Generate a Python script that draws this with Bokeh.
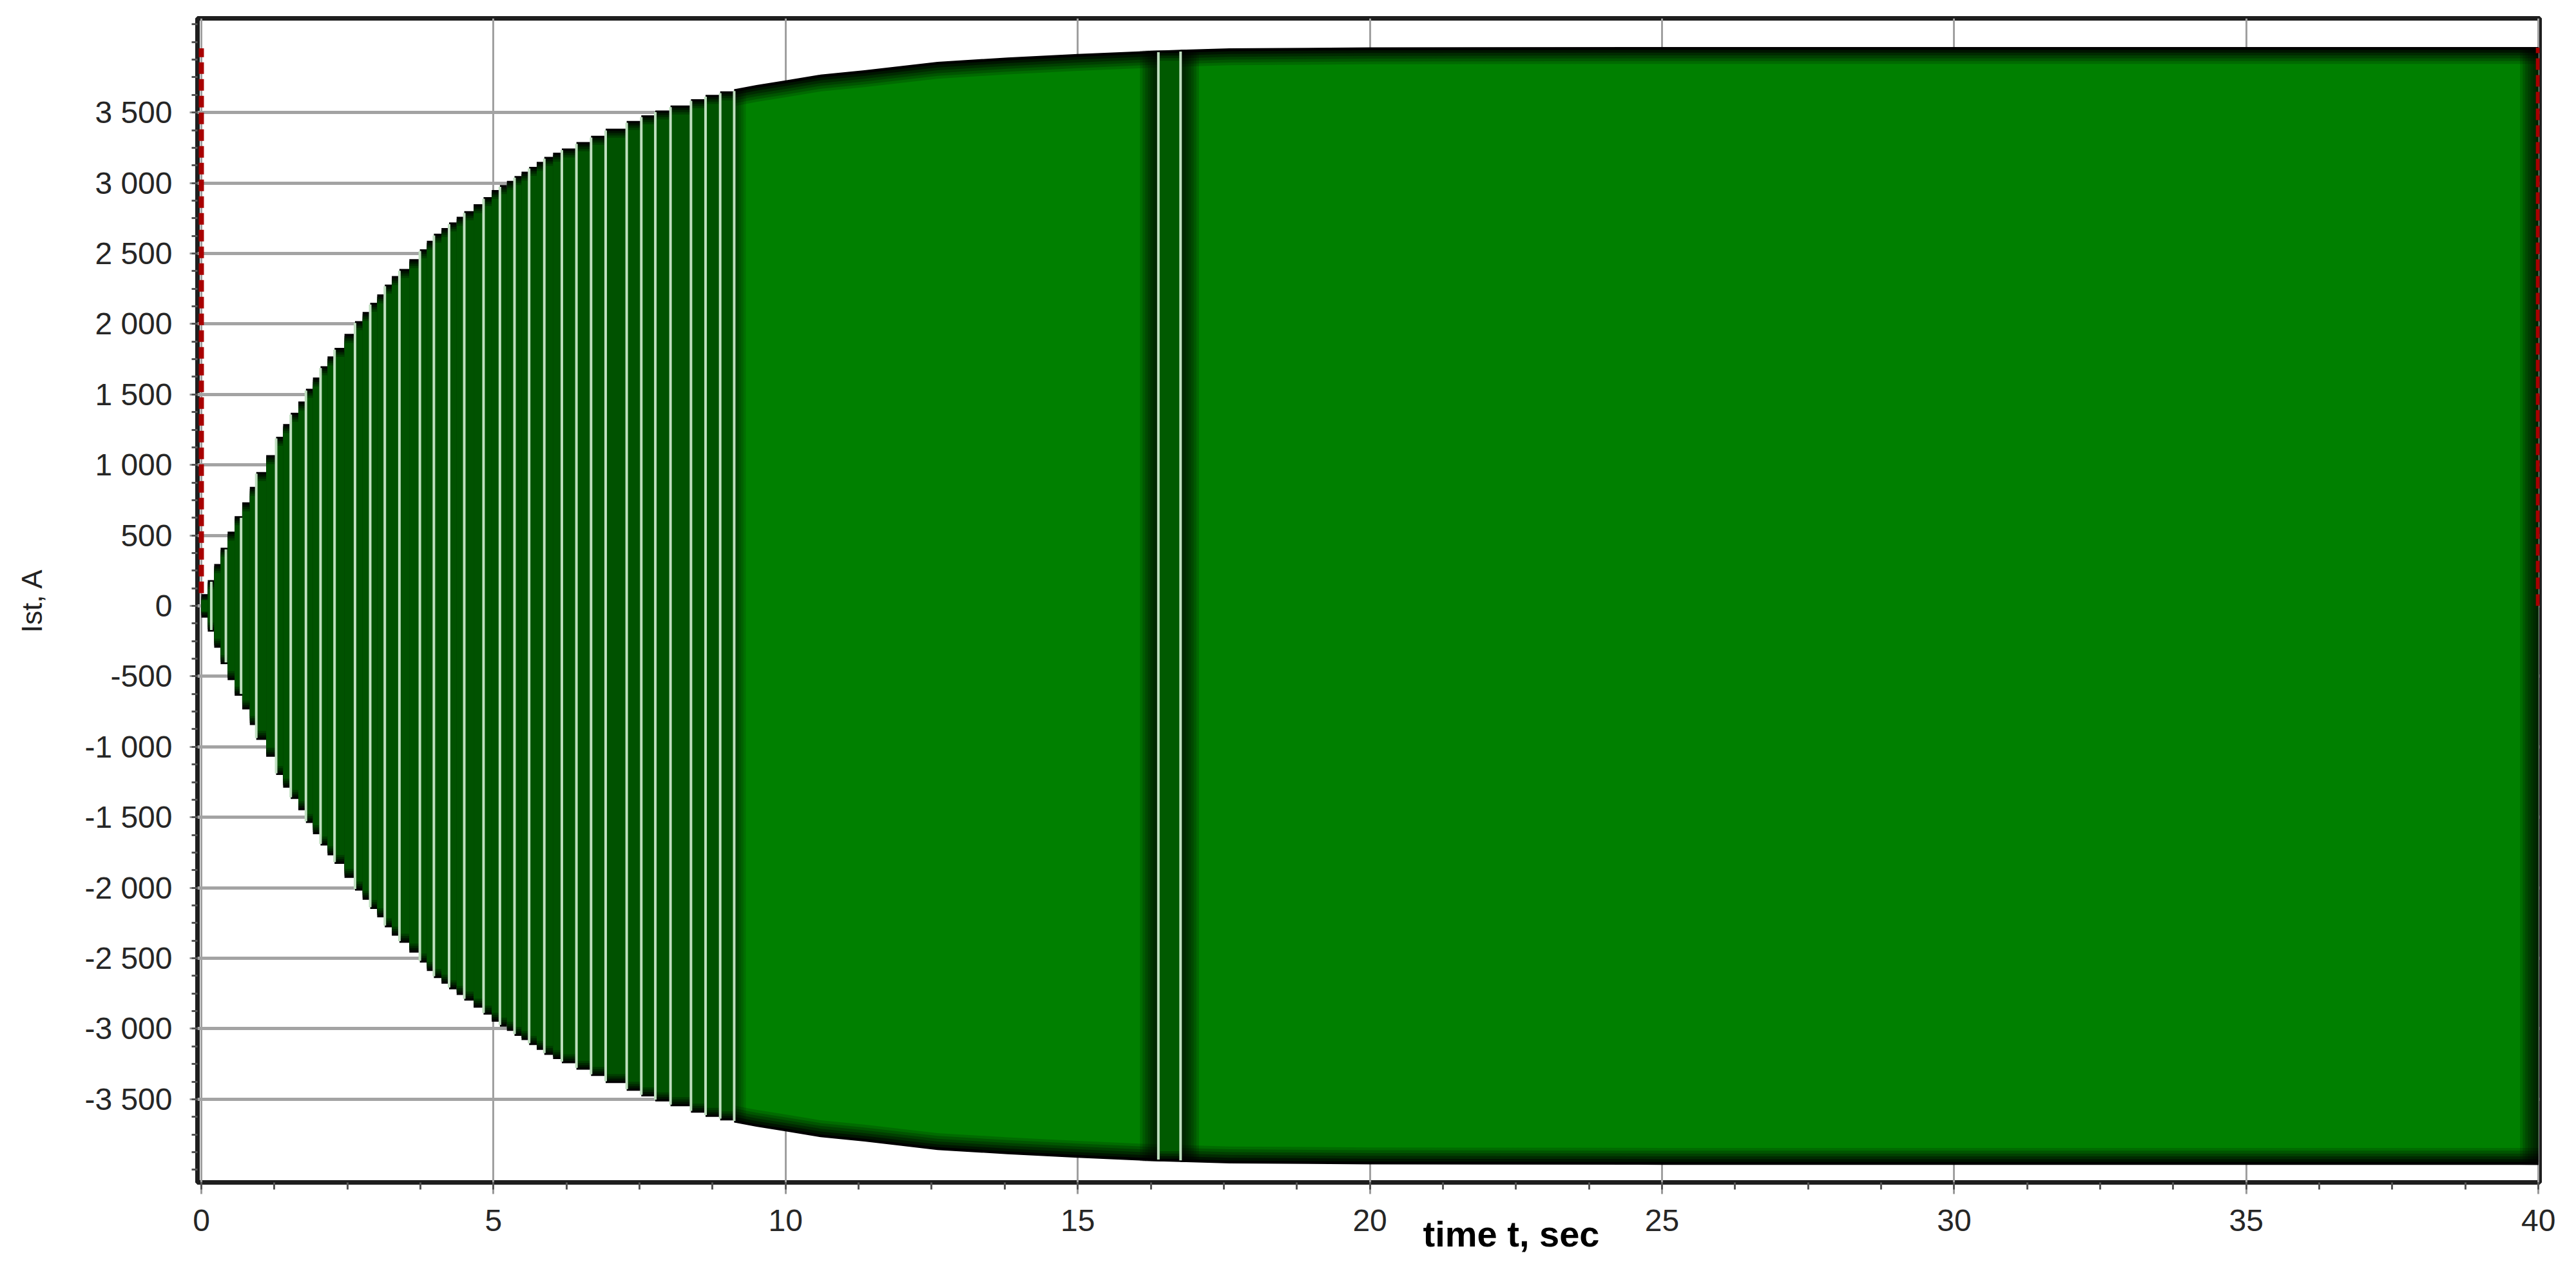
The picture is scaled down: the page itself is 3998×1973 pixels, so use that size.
import numpy as np
from bokeh.plotting import figure
from bokeh.models import FixedTicker, Range1d, LinearAxis
from bokeh.embed import file_html
from bokeh.resources import INLINE

# ---------------- data ----------------
# early part (t < 9.12 s): stepped columns (left edge time, half-height A)
step_t = [0.00, 0.11, 0.22, 0.33, 0.45, 0.57, 0.70, 0.83, 0.94, 1.11, 1.28, 1.40,
          1.53, 1.66, 1.79, 1.91, 2.04, 2.16, 2.28, 2.45, 2.63, 2.76, 2.89, 3.01,
          3.14, 3.26, 3.39, 3.56, 3.74, 3.86, 3.98, 4.11, 4.24, 4.37, 4.50, 4.66,
          4.83, 4.97, 5.11, 5.23, 5.36, 5.48, 5.61, 5.74, 5.87, 6.02, 6.17, 6.42,
          6.67, 6.92, 7.28, 7.53, 7.77, 8.03, 8.38, 8.63, 8.88]
step_a = [83, 183, 297, 413, 527, 637, 735, 845, 950, 1070, 1200, 1290,
          1370, 1450, 1540, 1620, 1700, 1770, 1830, 1930, 2020, 2085, 2150, 2210,
          2280, 2340, 2390, 2460, 2530, 2590, 2640, 2680, 2720, 2760, 2800, 2850,
          2900, 2950, 2985, 3015, 3050, 3080, 3115, 3150, 3185, 3215, 3245, 3290,
          3335, 3385, 3440, 3480, 3515, 3550, 3595, 3625, 3650]
bright_start = 9.12

# later part: envelope of the dense oscillation (time, amplitude A)
env_t = [9.12, 9.5, 10.0, 10.6, 11.35, 12.6, 13.8, 15.0, 16.38, 16.76, 17.6,
         20.0, 25.0, 30.0, 35.0, 40.0]
env_a = [3665, 3695, 3728, 3769, 3800, 3860, 3890, 3915, 3940, 3945, 3955,
         3962, 3965, 3965, 3965, 3965]
dark_col = [16.38, 16.76]

# light gaps between oscillation columns
stripe_t = [0.17, 0.42, 0.68, 0.94, 1.28, 1.53, 1.79, 2.04, 2.28, 2.63, 2.89,
            3.14, 3.39, 3.74, 3.98, 4.24, 4.50, 4.83, 5.11, 5.36, 5.61, 5.87,
            6.17, 6.42, 6.67, 6.92, 7.28, 7.53, 7.77, 8.03, 8.38, 8.63, 8.88,
            9.12, 16.38, 16.76]

# red dashed trace
red_t = [0.0, 40.0]
red_lo = [90, 0]
red_hi = [3955, 3960]

x_ticks = [0, 5, 10, 15, 20, 25, 30, 35, 40]
y_ticks = [-3500, -3000, -2500, -2000, -1500, -1000, -500, 0,
           500, 1000, 1500, 2000, 2500, 3000, 3500]
y_tick_labels = ["-3 500", "-3 000", "-2 500", "-2 000", "-1 500", "-1 000", "-500", "0",
                 "500", "1 000", "1 500", "2 000", "2 500", "3 000", "3 500"]
x_label = "time t, sec"
x_label_pos = 22.42
y_label = "Ist, A"

# ---------------- styling helpers ----------------
GREEN = (0, 128, 0)
DARK = (0, 82, 0)
BLACK = (0, 0, 0)
FONT = "Liberation Sans"


def blend(c1, c2, f):
    return "#%02x%02x%02x" % tuple(int(round(a + (b - a) * f)) for a, b in zip(c1, c2))


p = figure(width=3982, height=1957, output_backend="svg", toolbar_location=None,
           x_range=Range1d(-0.066, 40.02), y_range=Range1d(-4090, 4168),
           min_border_left=306, min_border_right=41, min_border_top=28,
           min_border_bottom=122)
p.background_fill_color = "white"
p.border_fill_color = "white"
p.outline_line_color = "#1e1e1e"
p.outline_line_width = 7

# ---- bright green envelope region with dark rim ----
ea = np.array(env_a, dtype=float)
N = 7
for k in range(N):
    amp = ea - k * 20
    p.varea(x=env_t, y1=-amp, y2=amp, fill_color=blend(BLACK, GREEN, k / (N - 1)))

# ---- early stepped columns ----
lefts = np.array(step_t)
rights = np.array(step_t[1:] + [bright_start])
sa = np.array(step_a, dtype=float)
M = 5
for k in range(M):
    top = np.maximum(sa - k * 16, sa * 0.5)
    p.quad(left=lefts, right=rights, top=top, bottom=-top,
           fill_color=blend(BLACK, DARK, k / (M - 1)), line_color=None)

# ---- dark column inside the bright region ----
i0 = env_t.index(dark_col[0])
h_dark = env_a[i0]
for k in range(M):
    top = h_dark - k * 18
    p.quad(left=[dark_col[0]], right=[dark_col[1]], top=[top], bottom=[-top],
           fill_color=blend(BLACK, (0, 90, 0), k / (M - 1)), line_color=None)


# ---- horizontal shading at the edges of bright blocks ----
def hshade(edge, h, direction, n=7, dx=0.045, alpha=0.16):
    for k in range(n):
        a, b = edge, edge + direction * (k + 1) * dx
        p.quad(left=[min(a, b)], right=[max(a, b)], top=[h], bottom=[-h],
               fill_color="black", fill_alpha=alpha, line_color=None)


hshade(env_t[-1], env_a[-1], -1)
hshade(dark_col[0], env_a[i0], -1)
hshade(dark_col[1], env_a[i0 + 1], +1)
hshade(bright_start, env_a[0], +1, n=5, dx=0.04, alpha=0.12)

# ---- stripes ----
sx, sh = [], []
for s in stripe_t:
    if s < bright_start:
        idx = int(np.searchsorted(step_t, s, side="right")) - 1
        h = step_a[idx]
    else:
        idx = int(np.searchsorted(env_t, s, side="right")) - 1
        h = env_a[idx]
    sx.append(s)
    sh.append(h - 12)
sh = np.array(sh, dtype=float)
p.segment(x0=sx, x1=sx, y0=-sh, y1=sh, line_color="#bfdfbf", line_width=4)

# ---- red dashed trace ----
p.segment(x0=red_t, x1=red_t, y0=red_lo, y1=red_hi, line_color="#a80000",
          line_width=8, line_dash="18 8")

# ---------------- axes ----------------
p.xaxis.ticker = FixedTicker(ticks=x_ticks, minor_ticks=list(np.arange(0, 40.01, 1.25)))
p.yaxis.ticker = FixedTicker(ticks=y_ticks, minor_ticks=list(np.arange(-4000, 4126, 125)))
p.yaxis.major_label_overrides = {t: l for t, l in zip(y_ticks, y_tick_labels)}

for ax in (p.xaxis[0], p.yaxis[0]):
    ax.axis_line_color = None
    ax.major_tick_line_color = "#9a9a9a"
    ax.major_tick_line_width = 3
    ax.minor_tick_line_color = "#555555"
    ax.minor_tick_line_width = 3
    ax.major_tick_in = 0
    ax.minor_tick_in = 0
    ax.major_label_text_font = FONT
    ax.major_label_text_font_size = "48px"
    ax.major_label_text_color = "#262626"

p.yaxis.major_tick_out = 12
p.yaxis.minor_tick_out = 9
p.yaxis.major_label_standoff = 27
p.xaxis.major_tick_out = 18
p.xaxis.minor_tick_out = 11
p.xaxis.major_label_standoff = 24

p.yaxis.axis_label = y_label
p.yaxis.axis_label_text_font = FONT
p.yaxis.axis_label_text_font_style = "normal"
p.yaxis.axis_label_text_font_size = "44px"
p.yaxis.axis_label_text_color = "#222222"
p.yaxis.axis_label_standoff = 54

# x-axis title as the single label of a second, line-less axis below
xlab = LinearAxis(ticker=FixedTicker(ticks=[x_label_pos]),
                  major_label_overrides={x_label_pos: x_label})
xlab.axis_line_color = None
xlab.major_tick_line_color = None
xlab.minor_tick_line_color = None
xlab.major_tick_out = 0
xlab.major_tick_in = 0
xlab.major_label_standoff = -30
xlab.major_label_text_font = FONT
xlab.major_label_text_font_style = "bold"
xlab.major_label_text_font_size = "56px"
xlab.major_label_text_color = "black"
p.add_layout(xlab, "below")

p.xgrid.ticker = FixedTicker(ticks=x_ticks)
p.ygrid.ticker = FixedTicker(ticks=y_ticks)
p.xgrid.grid_line_color = "#a0a0a0"
p.xgrid.grid_line_width = 3
p.ygrid.grid_line_color = "#a3a3a3"
p.ygrid.grid_line_width = 5

open("out.html", "w").write(file_html(p, INLINE))
